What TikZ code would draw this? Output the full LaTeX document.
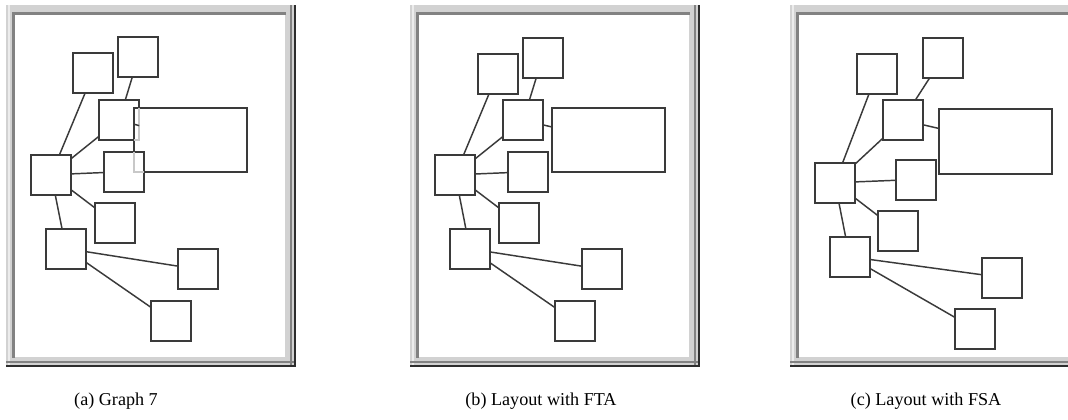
\documentclass[tikz,border=0pt]{standalone}
\usepackage{fontspec}
\setmainfont{Liberation Serif}
\definecolor{boxline}{RGB}{58,58,58}
\definecolor{ghost}{RGB}{200,200,200}
\definecolor{framelight}{RGB}{210,210,210}
\definecolor{framepale}{RGB}{236,236,236}
\definecolor{framemid}{RGB}{130,130,130}
\definecolor{framedark}{RGB}{45,45,45}

\begin{document}
\begin{tikzpicture}[x=0.75pt,y=-0.75pt]
\tikzstyle{vbox}=[rectangle,draw=boxline,line width=1.5pt,minimum size=30pt,inner sep=0pt,outer sep=0pt]
\tikzstyle{wbox}=[vbox,minimum width=84.75pt,minimum height=48.2pt]
\tikzstyle{link}=[draw=boxline,line width=1.1pt]
\tikzstyle{ghostline}=[draw=ghost,line width=1.5pt]
\tikzstyle{caption}=[font=\fontsize{13.6}{16}\selectfont]
\useasboundingbox (0,0) rectangle (1068,419);
\clip (0,0) rectangle (1068,419);

% window frames
\foreach \ox in {6,410,790} {
  \fill[framelight] (\ox,5) rectangle (\ox+290,367);
  \fill[framepale] (\ox+2,5) rectangle (\ox+4,365);
  \fill[framemid] (\ox,361) rectangle (\ox+290,363);
  \fill[framemid] (\ox+284,5) rectangle (\ox+286,367);
  \fill[framedark] (\ox,365) rectangle (\ox+290,367);
  \fill[framedark] (\ox+288,5) rectangle (\ox+290,367);
  \fill[framemid] (\ox+6,12) rectangle (\ox+280,15);
  \fill[framemid] (\ox+6,12) rectangle (\ox+9,358);
  \fill[white] (\ox+9,15) rectangle (\ox+279,357);
}

% (a) graph 7
\node [wbox] (abig) at (190.8,140.2) {};
\node [vbox] (a1) at (93.3,73.3) {};
\node [vbox] (a2) at (138.3,57.3) {};
\node [vbox] (a3) at (119.2,120) {};
\node [vbox] (a4) at (51.2,174.7) {};
\node [vbox] (a5) at (124,171.7) {};
\node [vbox] (a6) at (114.5,222.7) {};
\node [vbox] (a7) at (66,248.5) {};
\node [vbox] (a8) at (198,269.3) {};
\node [vbox] (a9) at (170.7,321) {};
\draw[ghostline] (a3.east |- abig.north) -- (a3.south east) -- (abig.west |- a3.south);
\draw[ghostline] (abig.west |- a5.north) -- (abig.south west) -- (a5.east |- abig.south);

% (b) FTA
\node [wbox] (bbig) at (608,140.2) {};
\node [vbox] (b1) at (497.5,73.5) {};
\node [vbox] (b2) at (542.5,57.5) {};
\node [vbox] (b3) at (523.2,120.2) {};
\node [vbox] (b4) at (455.3,174.8) {};
\node [vbox] (b5) at (528,171.8) {};
\node [vbox] (b6) at (518.5,222.8) {};
\node [vbox] (b7) at (469.8,248.8) {};
\node [vbox] (b8) at (602,269.3) {};
\node [vbox] (b9) at (574.7,321.2) {};

% (c) FSA
\node [wbox] (cbig) at (995,141.5) {};
\node [vbox] (c1) at (876.8,73.5) {};
\node [vbox] (c2) at (942.8,57.5) {};
\node [vbox] (c3) at (902.5,120) {};
\node [vbox] (c4) at (835,182.7) {};
\node [vbox] (c5) at (915.5,179.5) {};
\node [vbox] (c6) at (897.7,230.8) {};
\node [vbox] (c7) at (849.5,256.7) {};
\node [vbox] (c8) at (1002.3,277.5) {};
\node [vbox] (c9) at (974.8,328.8) {};

% edges, same in every layout
\foreach \p in {a,b,c}
  \foreach \u/\v in {4/1,4/3,3/2,4/5,4/6,4/7,7/8,7/9,3/big}
    \draw[link] (\p\u) -- (\p\v);

\node [caption] (capa) at (116,401) {(a) Graph 7};
\node [caption] (capb) at (541,401) {(b) Layout with FTA};
\node [caption] (capc) at (926,401) {(c) Layout with FSA};
\end{tikzpicture}
\end{document}
